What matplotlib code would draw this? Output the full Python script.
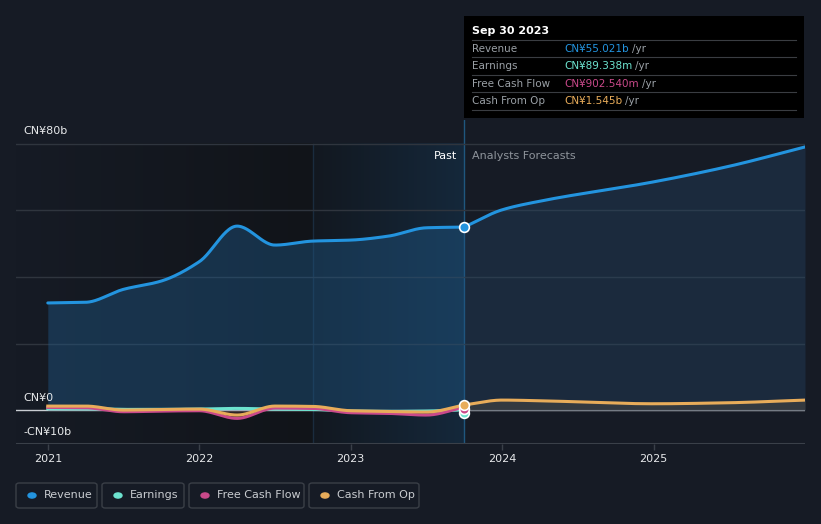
import numpy as np
import matplotlib.pyplot as plt
from matplotlib.colors import LinearSegmentedColormap
from matplotlib.patches import FancyBboxPatch, Rectangle

# ---- data (CN¥ billions) ----
past_t = [2021.0, 2021.25, 2021.5, 2021.75, 2022.0, 2022.25, 2022.5, 2022.75,
          2023.0, 2023.25, 2023.5, 2023.75]
revenue = [32.2, 32.4, 36.3, 38.8, 44.6, 55.3, 49.6, 50.8, 51.1, 52.3, 54.8, 55.02]
earnings = [0.4, 0.4, 0.2, 0.2, 0.3, 0.5, 0.3, 0.2, -0.3, -0.4, -0.3, 0.09]
fcf = [0.8, 0.7, -0.5, -0.3, -0.2, -2.5, 0.6, 0.5, -0.8, -1.0, -1.5, 0.9]
cfo = [1.2, 1.2, 0.0, 0.2, 0.3, -1.5, 1.2, 1.1, -0.2, -0.4, -0.6, 1.545]

fc_t = [2023.75, 2024.0, 2024.25, 2025.0, 2025.5, 2026.0]
revenue_fc = [55.02, 60.2, 62.8, 68.6, 73.3, 79.1]
cfo_fc = [1.545, 3.0, 2.8, 1.9, 2.2, 3.0]

year_ticks = [2021, 2022, 2023, 2024, 2025]
series_names = ["Revenue", "Earnings", "Free Cash Flow", "Cash From Op"]
series_colors = ["#2394df", "#6de3cf", "#c9498a", "#e8ac5a"]
tip_values = ["CN¥55.021b", "CN¥89.338m", "CN¥902.540m", "CN¥1.545b"]

BG = "#161b25"
past_end = 2023.75
band_start = 2022.75
X0, X1 = 2020.79, 2026.0
Y0, Y1 = -10.2, 87.2
LW = 2.2


def pchip(x, y, n=300):
    x = np.asarray(x, float)
    y = np.asarray(y, float)
    h = np.diff(x)
    d = np.diff(y) / h
    m = np.zeros_like(y)
    for k in range(1, len(y) - 1):
        if d[k - 1] * d[k] > 0:
            w1 = 2 * h[k] + h[k - 1]
            w2 = h[k] + 2 * h[k - 1]
            m[k] = (w1 + w2) / (w1 / d[k - 1] + w2 / d[k])
    m[0] = d[0]
    m[-1] = d[-1]
    xs = np.linspace(x[0], x[-1], n)
    idx = np.clip(np.searchsorted(x, xs) - 1, 0, len(h) - 1)
    t = (xs - x[idx]) / h[idx]
    h00 = 2 * t**3 - 3 * t**2 + 1
    h10 = t**3 - 2 * t**2 + t
    h01 = -2 * t**3 + 3 * t**2
    h11 = t**3 - t**2
    ys = h00 * y[idx] + h10 * h[idx] * m[idx] + h01 * y[idx + 1] + h11 * h[idx] * m[idx + 1]
    return xs, ys


fig = plt.figure(figsize=(8.21, 5.24), dpi=100)
fig.patch.set_facecolor(BG)
ax = fig.add_axes([16 / 821, 1 - 444 / 524, 789 / 821, 324 / 524])
ax.set_facecolor(BG)
for s in ax.spines.values():
    s.set_visible(False)

# past background regions (only below the top grid line)
grad = np.linspace(0, 1, 1024).reshape(1, -1)
ax.imshow(grad, extent=[X0, band_start, Y0, 80], aspect="auto",
          cmap=LinearSegmentedColormap.from_list("d", [BG, "#111419"], N=1024),
          zorder=0.5, interpolation="bilinear")
ax.imshow(grad, extent=[band_start, past_end, Y0, 80], aspect="auto",
          cmap=LinearSegmentedColormap.from_list("g", ["#121820", "#15283b"], N=1024),
          zorder=0.5, interpolation="bilinear")
ax.set_xlim(X0, X1)
ax.set_ylim(Y0, Y1)
ax.plot([band_start, band_start], [Y0, 80], color="#1a2c3e", lw=1, zorder=1)
ax.axvline(past_end, color="#1f577e", lw=1, zorder=1)

# grid
for g in [20, 40, 60, 80]:
    ax.axhline(g, color="#2f353e", lw=1, zorder=1)
ax.axhline(Y0, color="#3a4049", lw=1.5, zorder=1)
ax.axhline(0, color="#c9cdd2", lw=1, zorder=1.5)

# revenue
xr, yr = pchip(past_t, revenue)
ax.fill_between(xr, 0, yr, color="#1f5a8a", alpha=0.42, lw=0, zorder=2)
ax.plot(xr, yr, color=series_colors[0], lw=LW, zorder=5, solid_capstyle="round")
xf, yf = pchip(fc_t, revenue_fc)
ax.fill_between(xf, 0, yf, color="#24476a", alpha=0.36, lw=0, zorder=2)
ax.plot(xf, yf, color=series_colors[0], lw=LW, zorder=5, solid_capstyle="round")

# small series
for vals, c, z in [(earnings, series_colors[1], 6), (fcf, series_colors[2], 7), (cfo, series_colors[3], 8)]:
    xs, ys = pchip(past_t, vals)
    ax.fill_between(xs, 0, ys, color=c, alpha=0.08, lw=0, zorder=3)
    ax.plot(xs, ys, color=c, lw=LW, zorder=z)
xc, yc = pchip(fc_t, cfo_fc)
ax.fill_between(xc, 0, yc, color="#3a3d42", alpha=0.8, lw=0, zorder=3)
ax.plot(xc, yc, color=series_colors[3], lw=LW, zorder=8)

# markers at the past end
for v, c in [(earnings[-1] - 1.0, series_colors[1]), (fcf[-1] - 0.5, series_colors[2]),
             (cfo[-1], series_colors[3]), (revenue[-1], series_colors[0])]:
    ax.plot([past_end], [v], "o", ms=7, color=c, mec="white", mew=1.2, zorder=10)

# y labels
ax.text(2020.84, 82.5, "CN¥80b", color="#e6e8ea", fontsize=8, va="bottom", ha="left")
ax.text(2020.84, 2.0, "CN¥0", color="#e6e8ea", fontsize=8, va="bottom", ha="left")
ax.text(2020.84, -8.0, "-CN¥10b", color="#e6e8ea", fontsize=8, va="bottom", ha="left")

# Past / forecast
ax.text(past_end - 0.05, 76.5, "Past", color="#ffffff", fontsize=8, ha="right", va="center")
ax.text(past_end + 0.05, 76.5, "Analysts Forecasts", color="#8e949b", fontsize=8, ha="left", va="center")

# x ticks
ax.set_xticks(year_ticks)
ax.set_xticklabels([str(y) for y in year_ticks])
ax.tick_params(axis="x", colors="#3a4049", length=4, width=1, pad=3, labelcolor="#e6e8ea", labelsize=8)
ax.set_yticks([])

# tooltip
fig.patches.append(Rectangle((464 / 821, 1 - 118 / 524), 340 / 821, 102 / 524,
                             transform=fig.transFigure, facecolor="#000000", edgecolor="none"))
fig.text(472 / 821, 1 - 31 / 524, "Sep 30 2023", color="white", fontsize=8, fontweight="bold", va="center")
rows_y = [49, 66, 84, 101]
for i, (nm, val, c) in enumerate(zip(series_names, tip_values, series_colors)):
    yline = 1 - (rows_y[i] - 9) / 524
    fig.lines.append(plt.Line2D([472 / 821, 796 / 821], [yline, yline], transform=fig.transFigure,
                                color="#3a3d42", lw=0.8))
    fig.text(472 / 821, 1 - rows_y[i] / 524, nm, color="#9aa0a6", fontsize=7.5, va="center")
    t = fig.text(564 / 821, 1 - rows_y[i] / 524, val, color=c, fontsize=7.5, va="center")
    fig.canvas.draw()
    bb = t.get_window_extent()
    fig.text(bb.x1 / 821 + 3 / 821, 1 - rows_y[i] / 524, "/yr", color="#9aa0a6", fontsize=7.5, va="center")
yline = 1 - 110 / 524
fig.lines.append(plt.Line2D([472 / 821, 796 / 821], [yline, yline], transform=fig.transFigure,
                            color="#3a3d42", lw=0.8))

# legend
boxes = [(16, 97), (102, 184), (189, 304), (309, 419)]
for (x0, x1), nm, c in zip(boxes, series_names, series_colors):
    fig.patches.append(FancyBboxPatch((x0 / 821, 1 - 508 / 524), (x1 - x0) / 821, 25 / 524,
                                      boxstyle="round,pad=0,rounding_size=0.004",
                                      transform=fig.transFigure, facecolor="none",
                                      edgecolor="#3a3f47", lw=1))
    fig.patches.append(plt.Circle(((x0 + 16) / 821, 1 - 495.5 / 524), 4 / 821,
                                  transform=fig.transFigure, color=c))
    fig.text((x0 + 28) / 821, 1 - 495.5 / 524, nm, color="#c9ccd0", fontsize=8, va="center")

fig.savefig("out.png", dpi=100, facecolor=BG)
